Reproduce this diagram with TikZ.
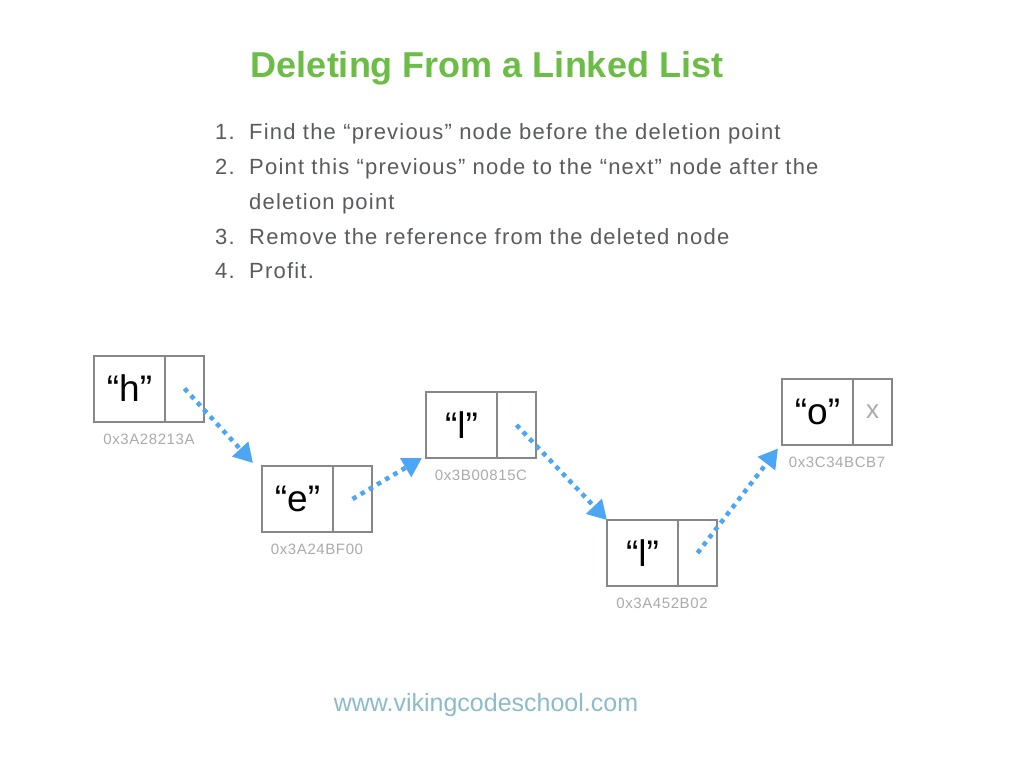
\documentclass[tikz,border=0pt]{standalone}
\usepackage{fontspec}
\setmainfont{Liberation Sans}
\usetikzlibrary{positioning,calc,arrows.meta}
\definecolor{title green}{HTML}{6CBD45}
\definecolor{step text}{HTML}{5A5B5E}
\definecolor{box edge}{HTML}{85878A}
\definecolor{addr text}{HTML}{ABABAB}
\definecolor{link blue}{HTML}{4DA6F4}
\definecolor{site text}{HTML}{8BBCCA}
\tikzset{valcell/.style={draw=box edge, line width=2pt, outer sep=0pt, minimum width=71pt,
        minimum height=66pt, font=\fontsize{37}{40}\selectfont},
    nextcell/.style={valcell, minimum width=39pt},
    addr/.style={anchor=north, inner sep=0pt, text=addr text,
        font=\fontsize{15}{18}\selectfont\addfontfeature{LetterSpace=4}},
    steptext/.style={anchor=base west, inner sep=0pt, text=step text,
        font=\fontsize{22}{26}\selectfont\addfontfeature{LetterSpace=5.5}},
    link/.style={draw=link blue, line width=4.5pt, dash pattern=on 4.5pt off 5pt,
        -{Triangle[length=19pt,width=21pt]}}}

\begin{document}
\begin{tikzpicture}[x=1pt, y=-1pt]
    \useasboundingbox[fill=white] (0,0) rectangle (1024,768);
    \node[text=title green, font=\fontsize{36}{42}\selectfont\bfseries] (title) at (487,68) {Deleting From a Linked List};

    \node[steptext] (num1) at (215,139) {1.};
    \node[steptext] (item1) at (249,139) {Find the “previous” node before the deletion point};
    \node[steptext] (num2) at (215,174) {2.};
    \node[steptext] (item2) at (249,174) {Point this “previous” node to the “next” node after the};
    \node[steptext] (item2b) at (249,209) {deletion point};
    \node[steptext] (num3) at (215,244) {3.};
    \node[steptext] (item3) at (249,244) {Remove the reference from the deleted node};
    \node[steptext] (num4) at (215,278) {4.};
    \node[steptext] (item4) at (249,278) {Profit.};

    \node[valcell] (h) at (129.5,388.5) {“h”};
    \node[nextcell, right=0pt of h] (h-next) {};
    \node[addr, yshift=-12pt] at ($(h.south west)!.5!(h-next.south east)$) {0x3A28213A};

    \node[valcell] (e) at (297.5,499) {“e”};
    \node[nextcell, right=0pt of e] (e-next) {};
    \node[addr, yshift=-12pt] at ($(e.south west)!.5!(e-next.south east)$) {0x3A24BF00};

    \node[valcell] (l1) at (461.5,425) {“l”};
    \node[nextcell, right=0pt of l1] (l1-next) {};
    \node[addr, yshift=-12pt] at ($(l1.south west)!.5!(l1-next.south east)$) {0x3B00815C};

    \node[valcell] (l2) at (642.5,553) {“l”};
    \node[nextcell, right=0pt of l2] (l2-next) {};
    \node[addr, yshift=-12pt] at ($(l2.south west)!.5!(l2-next.south east)$) {0x3A452B02};

    \node[valcell] (o) at (817.5,411.5) {“o”};
    \node[nextcell, right=0pt of o, text=addr text, font=\fontsize{26}{30}\selectfont] (o-next) {x};
    \node[addr, yshift=-12pt] at ($(o.south west)!.5!(o-next.south east)$) {0x3C34BCB7};

    \draw[link] (h-next.center) -- ([shift={(-9,-3)}]e.north west);
    \draw[link] (e-next.center) -- ([shift={(-4,0)}]l1.south west);
    \draw[link] (l1-next.center) -- (l2.north west);
    \draw[link] (l2-next.center) -- ([shift={(-4,4)}]o.south west);

    \node[text=site text, font=\fontsize{25}{30}\selectfont] (site) at (486,705) {www.vikingcodeschool.com};
\end{tikzpicture}
\end{document}
